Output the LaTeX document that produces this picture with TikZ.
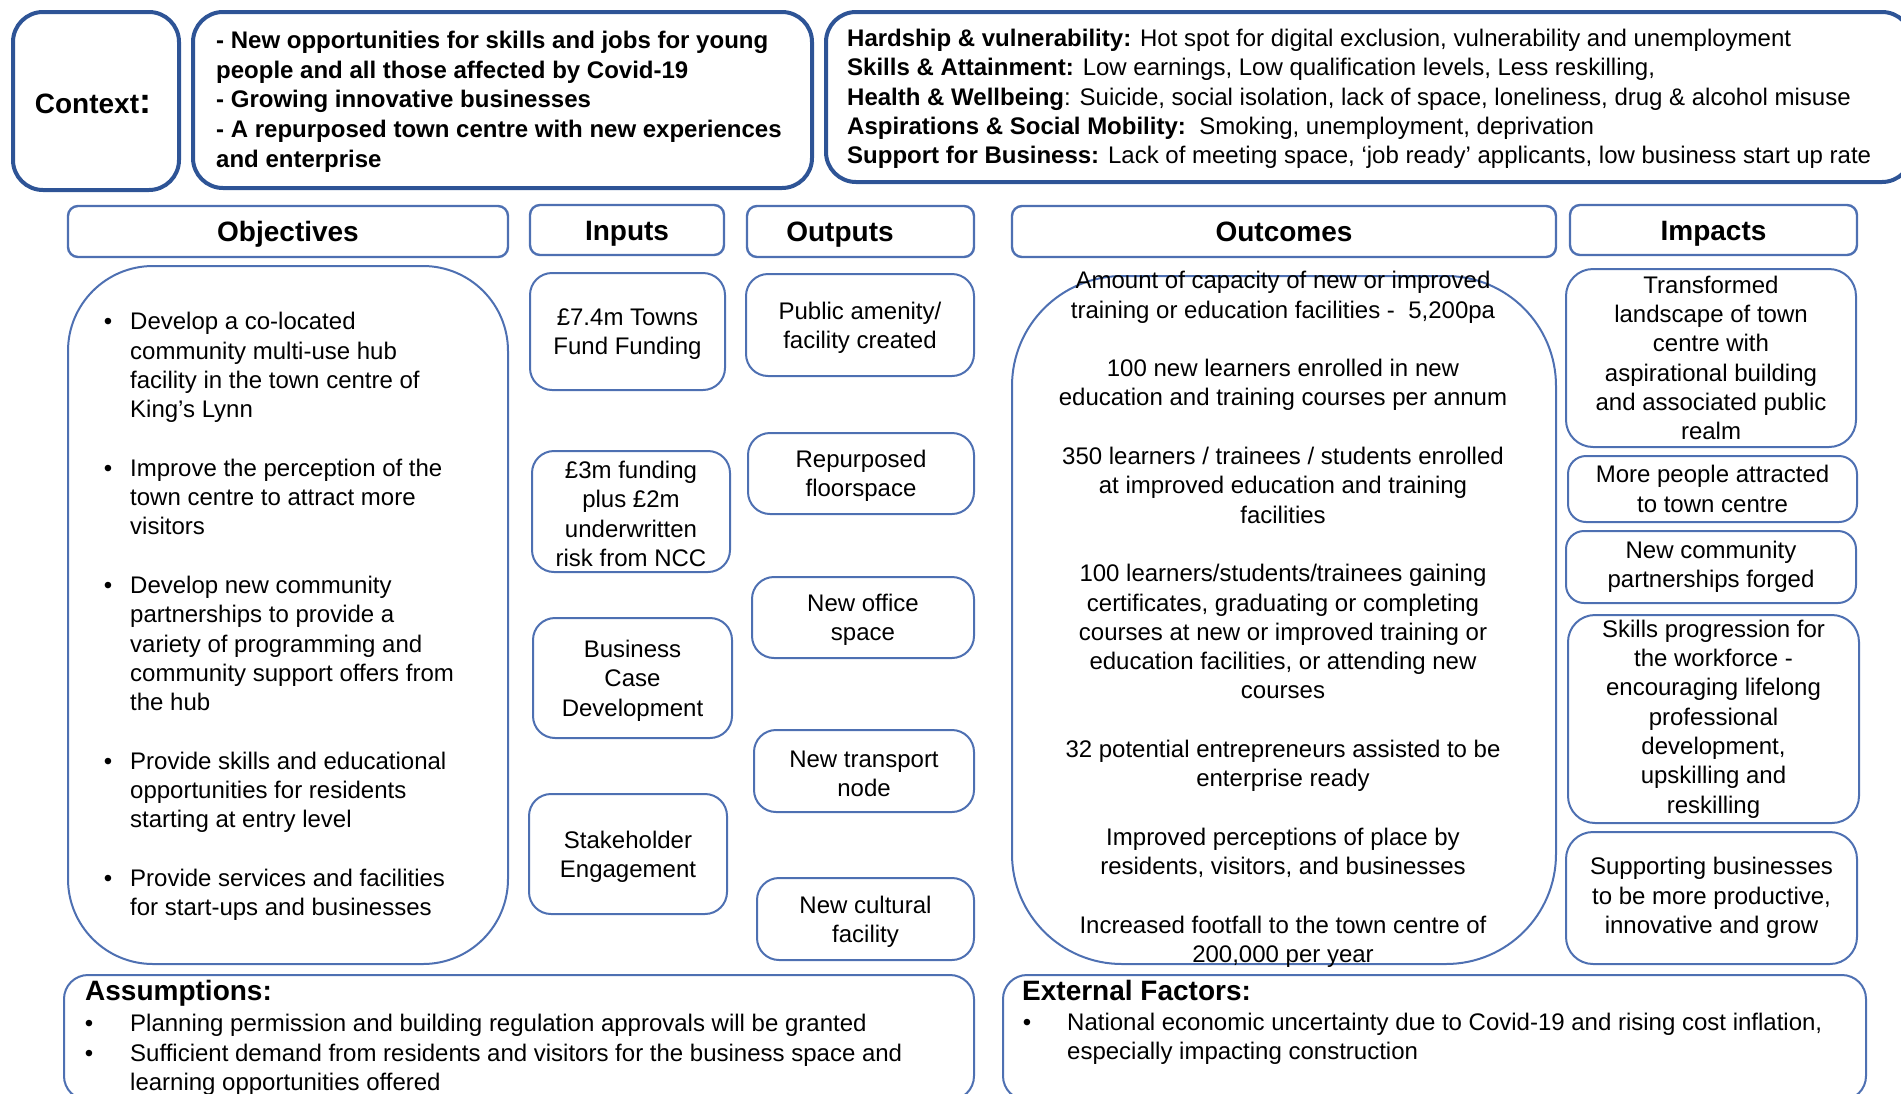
\documentclass[tikz,border=0pt]{standalone}
\usepackage{fontspec}
\setmainfont{Liberation Sans}
\definecolor{frameblue}{RGB}{46,84,150}
\definecolor{cellblue}{RGB}{78,112,178}
\newcommand\txtbody{\fontsize{24}{29.3}\selectfont}
\newcommand\txthead{\fontsize{28}{32}\selectfont\bfseries}
\newcommand\bul[1]{\llap{\textbullet\hspace{#1}}}
% taller first line, so the text of a cell sits a little lower
\newcommand\lift{\rule{0pt}{22.5pt}}
\begin{document}
\begin{tikzpicture}[x=1pt,y=-1pt,
  every node/.style={font=\txtbody, inner sep=0pt, text=black},
  topbox/.style={draw=frameblue, line width=4pt, rounded corners=30pt},
  headbox/.style={draw=cellblue, line width=2.4pt, rounded corners=10pt, font=\txthead},
  headtext/.style={font=\txthead, text height=26pt, text depth=6pt},
  cell/.style={draw=cellblue, line width=2pt, rounded corners=22pt, align=center},
  bigcell/.style={draw=cellblue, line width=2pt},
  impcell/.style={draw=cellblue, line width=2pt, rounded corners=27pt, align=center},
  notebox/.style={draw=cellblue, line width=2pt, rounded corners=24pt},
  plain/.style={align=left}]
\useasboundingbox (0,0) rectangle (1901,1093);
\clip (0,0) rectangle (1901,1093);

% ---- context row ----
\node[topbox, minimum width=166pt, minimum height=178pt] (ctx) at (96,101) {};
\node[font=\txthead] (ctxtext) at (93,104) {Context{\fontsize{36}{36}\selectfont:}};
\node[topbox, minimum width=619pt, minimum height=176pt] (aims) at (502.5,100) {};
\node[plain, anchor=west, font=\fontsize{24}{29.7}\selectfont\bfseries] (aimstext) at (216,101.5) {%
- New opportunities for skills and jobs for young\\
people and all those affected by Covid-19\\
- Growing innovative businesses\\
- A repurposed town centre with new experiences\\
and enterprise};
\node[topbox, minimum width=1086pt, minimum height=170pt] (needs) at (1369,97) {};
\node[plain, anchor=west] (needstext) at (847,99) {%
\textbf{Hardship \& vulnerability:} Hot spot for digital exclusion, vulnerability and unemployment\\
\textbf{Skills \& Attainment:} Low earnings, Low qualification levels, Less reskilling,\\
\textbf{Health \& Wellbeing}: Suicide, social isolation, lack of space, loneliness, drug \& alcohol misuse\\
\textbf{Aspirations \& Social Mobility:}\ \ Smoking, unemployment, deprivation\\
\textbf{Support for Business:} Lack of meeting space, ‘job ready’ applicants, low business start up rate};

% ---- column headings ----
\node[headbox, minimum width=440pt, minimum height=51pt] (hobj) at (288,231.5) {};
\node[headtext] at (hobj) {Objectives};
\node[headbox, minimum width=194pt, minimum height=50pt] (hin) at (627,230) {};
\node[headtext] at (hin) {Inputs};
\node[headbox, minimum width=227pt, minimum height=51pt] (hout) at (860.5,231.5) {};
\node[headtext] at (840,231.5) {Outputs};
\node[headbox, minimum width=544pt, minimum height=51pt] (hoc) at (1284,231.5) {};
\node[headtext] at (hoc) {Outcomes};
\node[headbox, minimum width=287pt, minimum height=50pt] (him) at (1713.5,230) {};
\node[headtext] at (him) {Impacts};

% ---- objectives ----
\node[bigcell, rounded corners=85pt, minimum width=440pt, minimum height=698pt] (obj) at (288,615) {};
\node[plain, anchor=west] (objtext) at (130,616.5) {%
\bul{18pt}Develop a co-located\\
community multi-use hub\\
facility in the town centre of\\
King’s Lynn\\[29.3pt]
\bul{18pt}Improve the perception of the\\
town centre to attract more\\
visitors\\[29.3pt]
\bul{18pt}Develop new community\\
partnerships to provide a\\
variety of programming and\\
community support offers from\\
the hub\\[29.3pt]
\bul{18pt}Provide skills and educational\\
opportunities for residents\\
starting at entry level\\[29.3pt]
\bul{18pt}Provide services and facilities\\
for start-ups and businesses};

% ---- inputs ----
\node[cell, minimum width=195pt, minimum height=117pt] (in1) at (627.5,331.5) {\lift£7.4m Towns\\Fund Funding};
\node[cell, minimum width=198pt, minimum height=121pt] (in2) at (631,511.5) {\lift£3m funding\\plus £2m\\underwritten\\risk from NCC};
\node[cell, minimum width=199pt, minimum height=120pt] (in3) at (632.5,678) {\lift Business\\Case\\Development};
\node[cell, minimum width=198pt, minimum height=120pt] (in4) at (628,854) {\lift Stakeholder\\Engagement};

% ---- outputs ----
\node[cell, minimum width=228pt, minimum height=102pt] (out1) at (860,325) {\lift Public amenity/\\facility created};
\node[cell, minimum width=226pt, minimum height=81pt] (out2) at (861,473.5) {\lift Repurposed\\floorspace};
\node[cell, minimum width=222pt, minimum height=81pt] (out3) at (863,617.5) {\lift New office\\space};
\node[cell, minimum width=220pt, minimum height=82pt] (out4) at (864,771) {\lift New transport\\node};
\node[cell, minimum width=217pt, minimum height=82pt] (out5) at (865.5,919) {\lift New cultural\\facility};

% ---- outcomes ----
\node[bigcell, rounded corners=110pt, minimum width=544pt, minimum height=688pt] (oc) at (1284,620) {};
\node[align=center] (octext) at (1283,619.5) {%
Amount of capacity of new or improved\\
training or education facilities -\ \ 5,200pa\\[29.3pt]
100 new learners enrolled in new\\
education and training courses per annum\\[29.3pt]
350 learners / trainees / students enrolled\\
at improved education and training\\
facilities\\[29.3pt]
100 learners/students/trainees gaining\\
certificates, graduating or completing\\
courses at new or improved training or\\
education facilities, or attending new\\
courses\\[29.3pt]
32 potential entrepreneurs assisted to be\\
enterprise ready\\[29.3pt]
Improved perceptions of place by\\
residents, visitors, and businesses\\[29.3pt]
Increased footfall to the town centre of\\
200,000 per year};

% ---- impacts ----
\node[impcell, minimum width=290pt, minimum height=178pt] (im1) at (1711,358) {Transformed\\landscape of town\\centre with\\aspirational building\\and associated public\\realm};
\node[impcell, rounded corners=18pt, minimum width=289pt, minimum height=66pt] (im2) at (1712.5,489) {More people attracted\\to town centre};
\node[impcell, rounded corners=18pt, minimum width=290pt, minimum height=72pt] (im3) at (1711,567) {New community\\partnerships forged};
\node[impcell, minimum width=291pt, minimum height=208pt] (im4) at (1713.5,719) {Skills progression for\\the workforce -\\encouraging lifelong\\professional\\development,\\upskilling and\\reskilling};
\node[impcell, minimum width=291pt, minimum height=132pt] (im5) at (1711.5,898) {Supporting businesses\\to be more productive,\\innovative and grow};

% ---- assumptions and external factors ----
\node[notebox, minimum width=910pt, minimum height=125pt] (assum) at (519,1037.5) {};
\node[anchor=west, font=\txthead] (assumtitle) at (85,993) {Assumptions:};
\node[plain, anchor=west] (assumtext) at (130,1055) {%
\bul{37pt}Planning permission and building regulation approvals will be granted\\
\bul{37pt}Sufficient demand from residents and visitors for the business space and\\
learning opportunities offered};
\node[notebox, minimum width=863pt, minimum height=125pt] (ext) at (1434.5,1037.5) {};
\node[anchor=west, font=\txthead] (exttitle) at (1022,990.5) {External Factors:};
\node[plain, anchor=west] (exttext) at (1067,1038.5) {%
\bul{36pt}National economic uncertainty due to Covid-19 and rising cost inflation,\\
especially impacting construction};
\end{tikzpicture}
\end{document}
